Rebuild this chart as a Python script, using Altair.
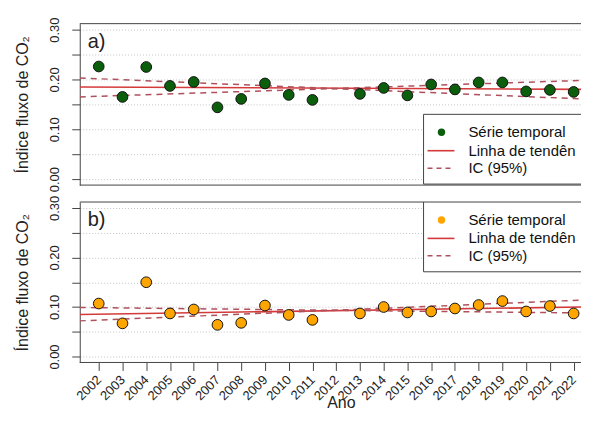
import altair as alt
import pandas as pd

# ---------------- data ----------------
years = [2002, 2003, 2004, 2005, 2006, 2007, 2008, 2009, 2010, 2011,
         2013, 2014, 2015, 2016, 2017, 2018, 2019, 2020, 2021, 2022]
serie_a = [0.226, 0.165, 0.225, 0.187, 0.195, 0.144, 0.161, 0.192, 0.169, 0.159,
           0.171, 0.183, 0.168, 0.190, 0.180, 0.194, 0.194, 0.176, 0.179, 0.175]
serie_b = [0.107, 0.067, 0.150, 0.087, 0.095, 0.064, 0.068, 0.103, 0.084, 0.074,
           0.087, 0.100, 0.089, 0.091, 0.097, 0.104, 0.112, 0.091, 0.102, 0.087]

# visible x range (the reference is cropped at the right) and the
# trend / confidence-interval lines' values at its two edges
x_ends = [2001.2, 2022.31]
trend_a = [0.185, 0.180]
ci_a_1 = [0.203, 0.161]
ci_a_2 = [0.165, 0.198]
trend_b = [0.085, 0.100]
ci_b_1 = [0.099, 0.088]
ci_b_2 = [0.072, 0.114]

tick_years = list(range(2002, 2023))
y_ticks = [0.0, 0.05, 0.10, 0.15, 0.20, 0.25, 0.30]
legend_labels = ["Série temporal", "Linha de tendência", "IC (95%)"]
panel_labels = ["a)", "b)"]
y_title = "Índice fluxo de CO₂"
x_title = "Ano"

FONT = "Liberation Sans"
RED = "#d43a3a"
DASHRED = "#b0505c"
GREEN = "#0b5e0b"
ORANGE = "#ffa500"
BOX = "#444444"
W = 503


def panel(vals, trend, ci1, ci2, color, label, h, leg_top, show_x):
    xs = alt.Scale(domain=x_ends, nice=False, zero=False)
    ys = alt.Scale(domain=[-0.012, 0.312], nice=False, zero=False)
    if show_x:
        xaxis = alt.Axis(values=tick_years, format="d", labelAngle=-45,
                         labelAlign="right", labelBaseline="middle",
                         labelPadding=7, tickSize=8, tickColor=BOX,
                         labelFontSize=13, labelColor="#222", labelFont=FONT,
                         title=x_title, titleX=262, titleY=45,
                         titleBaseline="alphabetic", titleAlign="center",
                         titleFontSize=16, titleFontWeight="normal",
                         titleFont=FONT, titleColor="#222",
                         grid=False, domain=False, labelOverlap=False)
    else:
        xaxis = None
    yaxis = alt.Axis(values=y_ticks,
                     labelExpr="abs(datum.value*10 - round(datum.value*10)) < 0.01 ? format(datum.value, '.2f') : ''",
                     labelAngle=-90, labelAlign="center", labelBaseline="middle",
                     labelPadding=17, tickSize=8, tickColor=BOX,
                     labelFontSize=13, labelColor="#222", labelFont=FONT,
                     title=y_title, titleX=-57, titleY=h / 2, titleAngle=-90,
                     titleAlign="center", titleBaseline="middle",
                     titleFontSize=16, titleFontWeight="normal", titleFont=FONT,
                     titleColor="#222",
                     grid=True, gridDash=[1, 2], gridColor="#c4c4c4",
                     domain=True, domainColor=BOX, labelOverlap=False)

    df = pd.DataFrame({"ano": years, "v": vals})
    lines = pd.DataFrame({
        "ano": x_ends * 3,
        "v": trend + ci1 + ci2,
        "s": ["t", "t", "c1", "c1", "c2", "c2"],
    })

    # the same axis definition is given to every layer so that they merge
    X = alt.X("ano:Q", scale=xs, axis=xaxis, title=x_title)
    Y = alt.Y("v:Q", scale=ys, axis=yaxis, title=y_title)

    trend_l = alt.Chart(lines).transform_filter("datum.s == 't'").mark_line(
        color=RED, strokeWidth=1.6, clip=True).encode(x=X, y=Y)
    ci_l = alt.Chart(lines).transform_filter("datum.s != 't'").mark_line(
        color=DASHRED, strokeWidth=1.5, strokeDash=[6, 5], clip=True).encode(
        x=X, y=Y, detail="s:N")

    pts = alt.Chart(df).mark_circle(size=115, color=color, opacity=1,
                                    stroke="#141414", strokeWidth=1).encode(
        x=X, y=Y)

    one = alt.Data(values=[{"k": 1}])
    lab = alt.Chart(one).mark_text(text=label, fontSize=20, font=FONT,
                                   color="#222", align="left",
                                   baseline="alphabetic").encode(
        x=alt.value(8), y=alt.value(24))

    # frame (the right side is cut off in the reference)
    top_b = alt.Chart(one).mark_rule(color=BOX, strokeWidth=1).encode(
        x=alt.value(0), x2=alt.value(W), y=alt.value(0))
    bot_b = alt.Chart(one).mark_rule(color=BOX, strokeWidth=1).encode(
        x=alt.value(0), x2=alt.value(W), y=alt.value(h))

    # legend box
    box = alt.Chart(one).mark_rect(fill="white", stroke=BOX, strokeWidth=1,
                                   clip=True).encode(
        x=alt.value(345), x2=alt.value(W + 40),
        y=alt.value(leg_top), y2=alt.value(leg_top + 70))
    rows = [leg_top + 18, leg_top + 36.5, leg_top + 54]
    leg_pt = alt.Chart(one).mark_circle(size=55, color=color, opacity=1).encode(
        x=alt.value(363), y=alt.value(rows[0]))
    leg_solid = alt.Chart(one).mark_rule(color=RED, strokeWidth=1.6).encode(
        x=alt.value(349), x2=alt.value(376), y=alt.value(rows[1]))
    leg_dash = alt.Chart(one).mark_rule(color=DASHRED, strokeWidth=1.5,
                                        strokeDash=[5, 4]).encode(
        x=alt.value(349), x2=alt.value(376), y=alt.value(rows[2]))
    texts = []
    for t, ry in zip(legend_labels, rows):
        texts.append(alt.Chart(one).mark_text(
            text=t, fontSize=15, font=FONT, color="#111", align="left",
            baseline="middle", clip=True, limit=W - 389,
            ellipsis="\u200b").encode(
            x=alt.value(390), y=alt.value(ry)))

    return alt.layer(trend_l, ci_l, pts, lab, top_b, bot_b, box,
                     leg_pt, leg_solid, leg_dash, *texts).properties(
        width=W, height=h)


pa = panel(serie_a, trend_a, ci_a_1, ci_a_2, GREEN, panel_labels[0], 162, 91, False)
pb = panel(serie_b, trend_b, ci_b_1, ci_b_2, ORANGE, panel_labels[1], 161, 0, True)

chart = alt.vconcat(pa, pb, spacing=17, bounds="flush").resolve_scale(
    y="independent").properties(
    padding={"left": 6, "top": 8, "right": 0, "bottom": 1},
    background="white",
).configure_view(stroke=None)

chart.save("out.html", embed_options={"renderer": "svg", "actions": False})
